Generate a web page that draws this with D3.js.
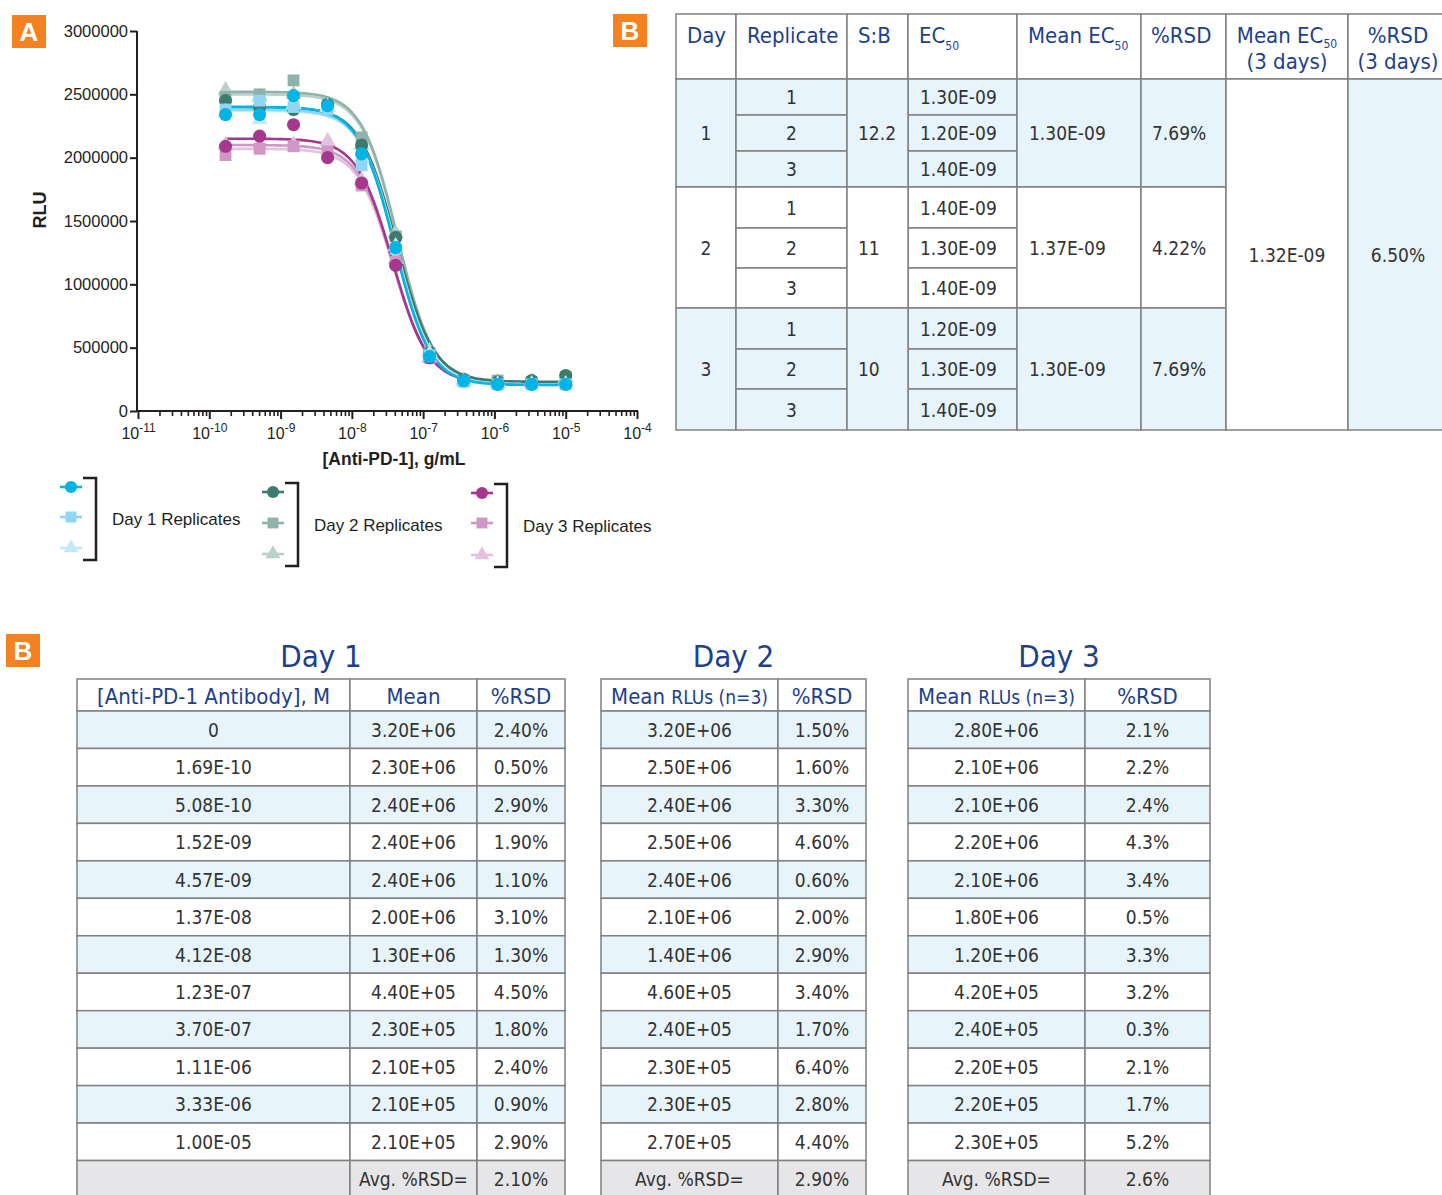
<!DOCTYPE html>
<meta charset="utf-8">
<style>
body{margin:0;background:#fff;}
svg text{font-family:"Liberation Sans",Arial,sans-serif;}
.axis text{font-size:16.5px;fill:#231f20;font-family:"Liberation Sans",Arial,sans-serif;}
.axis path,.axis line{stroke:#231f20;stroke-width:2px;}
.tbl text{font-family:"Liberation Sans Narrow","DejaVu Sans Condensed","Liberation Sans",sans-serif;}
.hd{fill:#1d3f8e;font-size:22px;}
.cell{fill:#333;font-size:19px;}
.badge text{fill:#fff;font-weight:bold;font-size:26px;}
</style>
<body>
<script src="https://cdn.jsdelivr.net/npm/d3@7/dist/d3.min.js"></script>
<script>
// concentrations on the plot, g/mL
var conc=[1.69e-10,5.08e-10,1.52e-9,4.57e-9,1.37e-8,4.12e-8,1.23e-7,3.70e-7,1.11e-6,3.33e-6,1.00e-5];

// replicate RLU
var day1Rep1=[2340000,2340000,2490000,2410000,2030000,1290000,430000,240000,210000,210000,210000];
var day1Rep2=[2380000,2450000,2400000,2380000,1940000,1280000,440000,230000,210000,210000,210000];
var day1Rep3=[2360000,2300000,2420000,2400000,2000000,1300000,450000,230000,210000,210000,210000];
var day2Rep1=[2450000,2400000,2380000,2420000,2100000,1370000,460000,250000,230000,240000,280000];
var day2Rep2=[2480000,2500000,2610000,2420000,2160000,1380000,460000,240000,240000,230000,270000];
var day2Rep3=[2530000,2480000,2500000,2400000,2100000,1400000,470000,240000,230000,230000,260000];
var day3Rep1=[2090000,2170000,2260000,2000000,1800000,1150000,420000,240000,220000,220000,230000];
var day3Rep2=[2020000,2070000,2090000,2050000,1780000,1180000,420000,240000,220000,220000,230000];
var day3Rep3=[2100000,2100000,2100000,2130000,1820000,1200000,420000,240000,220000,220000,230000];

// fitted 4PL curve parameters per replicate (same order)
var fitTop   =[2400000,2380000,2370000,2400000,2520000,2500000,2150000,2100000,2070000];
var fitBottom=[205000,210000,210000,230000,225000,225000,220000,220000,220000];
var fitLogEC50=[-7.40,-7.39,-7.38,-7.37,-7.36,-7.36,-7.43,-7.42,-7.42];
var fitHill  =[1.75,1.75,1.75,1.7,1.75,1.75,1.75,1.75,1.75];

var repColors=["#00b4e6","#8ed6f2","#c6e9f8","#3d7b6f","#8fb2ab","#bad0ca","#a6378f","#d197c4","#e3c2de"];
var repShapes=["circle","square","triangle","circle","square","triangle","circle","square","triangle"];
var legendLabels=["Day 1 Replicates","Day 2 Replicates","Day 3 Replicates"];

var yTicks=[0,500000,1000000,1500000,2000000,2500000,3000000];
var xMajor=[1e-11,1e-10,1e-9,1e-8,1e-7,1e-6,1e-5,1e-4];
var xExp=["-11","-10","-9","-8","-7","-6","-5","-4"];

// top-right EC50 table
var ecDays=["1","2","3"];
var ecReps=["1","2","3"];
var ecSB=["12.2","11","10"];
var ec50=[["1.30E-09","1.20E-09","1.40E-09"],["1.40E-09","1.30E-09","1.40E-09"],["1.20E-09","1.30E-09","1.40E-09"]];
var ecMean=["1.30E-09","1.37E-09","1.30E-09"];
var ecRSD=["7.69%","4.22%","7.69%"];
var ecMeanAll="1.32E-09";
var ecRSDAll="6.50%";

// bottom tables
var tblConc=["0","1.69E-10","5.08E-10","1.52E-09","4.57E-09","1.37E-08","4.12E-08","1.23E-07","3.70E-07","1.11E-06","3.33E-06","1.00E-05"];
var day1Mean=["3.20E+06","2.30E+06","2.40E+06","2.40E+06","2.40E+06","2.00E+06","1.30E+06","4.40E+05","2.30E+05","2.10E+05","2.10E+05","2.10E+05"];
var day1RSD=["2.40%","0.50%","2.90%","1.90%","1.10%","3.10%","1.30%","4.50%","1.80%","2.40%","0.90%","2.90%"];
var day2Mean=["3.20E+06","2.50E+06","2.40E+06","2.50E+06","2.40E+06","2.10E+06","1.40E+06","4.60E+05","2.40E+05","2.30E+05","2.30E+05","2.70E+05"];
var day2RSD=["1.50%","1.60%","3.30%","4.60%","0.60%","2.00%","2.90%","3.40%","1.70%","6.40%","2.80%","4.40%"];
var day3Mean=["2.80E+06","2.10E+06","2.10E+06","2.20E+06","2.10E+06","1.80E+06","1.20E+06","4.20E+05","2.40E+05","2.20E+05","2.20E+05","2.30E+05"];
var day3RSD=["2.1%","2.2%","2.4%","4.3%","3.4%","0.5%","3.3%","3.2%","0.3%","2.1%","1.7%","5.2%"];
var avgRSD=["2.10%","2.90%","2.6%"];

var ink="#231f20", blue="#e7f4fb", grey="#e6e6e8", border="#808080";

var svg=d3.select("body").append("svg").attr("width",1442).attr("height",1195);

// ---------- panel A ----------
var x=d3.scaleLog().domain([1e-11,1e-4]).range([138,637]);
var y=d3.scaleLinear().domain([0,3000000]).range([411,31]);

svg.append("g").attr("class","axis").attr("transform","translate(137,0)")
  .call(d3.axisLeft(y).tickValues(yTicks).tickFormat(d3.format("d")).tickSize(7).tickPadding(2))
  .select(".domain").attr("d","M0,31V411");

var minor=[];
xMajor.slice(0,-1).forEach(function(m){ for(var k=2;k<10;k++) minor.push(m*k); });

var xa=svg.append("g").attr("class","axis").attr("transform","translate(0,411)");
xa.call(d3.axisBottom(x).tickValues(xMajor).tickFormat("").tickSize(8).tickSizeOuter(0));
xa.select(".domain").attr("d","M136,0H638");
xa.selectAll(".tick").append("text").attr("y",28).attr("fill",ink).attr("text-anchor","middle")
  .style("font-size","16px")
  .each(function(d,i){
    var t=d3.select(this);
    t.append("tspan").text("10");
    t.append("tspan").attr("dy",-7).style("font-size","12px").text(xExp[i]);
  });
var xm=svg.append("g").attr("class","axis").attr("transform","translate(0,411)");
xm.call(d3.axisBottom(x).tickValues(minor).tickFormat("").tickSize(5));
xm.select(".domain").remove();
xm.selectAll("line").style("stroke-width","1.6px");

svg.append("text").attr("transform","translate(46,210) rotate(-90)").attr("text-anchor","middle")
  .style("font-weight","bold").style("font-size","18px").attr("fill",ink).text("RLU");
svg.append("text").attr("x",394).attr("y",465).attr("text-anchor","middle")
  .style("font-weight","bold").style("font-size","17.5px").attr("fill",ink).text("[Anti-PD-1], g/mL");

var reps=[day1Rep1,day1Rep2,day1Rep3,day2Rep1,day2Rep2,day2Rep3,day3Rep1,day3Rep2,day3Rep3];
var shapeType={circle:d3.symbolCircle,square:d3.symbolSquare,triangle:d3.symbolTriangle};
var shapeSize={circle:135,square:140,triangle:115};

var curveX=d3.range(0,121).map(function(i){ return Math.pow(10,Math.log10(conc[0])+i*(Math.log10(conc[10])-Math.log10(conc[0]))/120); });
var line=d3.line().x(function(d){return x(d[0]);}).y(function(d){return y(d[1]);}).curve(d3.curveBasis);

var order=[8,7,6,5,4,3,2,1,0];
var gc=svg.append("g");
order.forEach(function(r){
  var pts=curveX.map(function(c){
    var v=fitBottom[r]+(fitTop[r]-fitBottom[r])/(1+Math.pow(10,(Math.log10(c)-fitLogEC50[r])*fitHill[r]));
    return [c,v];
  });
  gc.append("path").attr("d",line(pts)).attr("fill","none").attr("stroke",repColors[r]).attr("stroke-width",2.6);
});
var gm=svg.append("g");
order.forEach(function(r){
  gm.selectAll(null).data(reps[r]).enter().append("path")
    .attr("transform",function(d,i){ return "translate("+x(conc[i])+","+y(d)+")"; })
    .attr("d",d3.symbol().type(shapeType[repShapes[r]]).size(shapeSize[repShapes[r]])())
    .attr("fill",repColors[r]);
});

// legend
var legX=[71,273,482], legY=[[487,517,548],[492,523,554],[493,523,555]];
legendLabels.forEach(function(lab,gi){
  var g=svg.append("g");
  [0,1,2].forEach(function(k){
    var r=gi*3+k;
    g.append("line").attr("x1",legX[gi]-11).attr("x2",legX[gi]+11).attr("y1",legY[gi][k]).attr("y2",legY[gi][k])
      .attr("stroke",repColors[r]).attr("stroke-width",2.6);
    g.append("path").attr("transform","translate("+legX[gi]+","+legY[gi][k]+")")
      .attr("d",d3.symbol().type(shapeType[repShapes[r]]).size(shapeSize[repShapes[r]]*0.85)())
      .attr("fill",repColors[r]);
  });
  var bx=legX[gi]+25, top=legY[gi][0]-9, bot=legY[gi][2]+12;
  g.append("path").attr("d","M"+(bx-13)+","+top+"H"+bx+"V"+bot+"H"+(bx-13))
    .attr("fill","none").attr("stroke",ink).attr("stroke-width",2.5);
  g.append("text").attr("x",bx+16).attr("y",(top+bot)/2+6).style("font-size","17px").attr("fill",ink).text(lab);
});

// badges
function badge(x0,y0,t){
  var b=svg.append("g").attr("class","badge");
  b.append("rect").attr("x",x0).attr("y",y0).attr("width",34).attr("height",33).attr("fill","#f58220");
  b.append("text").attr("x",x0+17).attr("y",y0+26).attr("text-anchor","middle").text(t);
}
badge(12,15,"A"); badge(613,14,"B"); badge(6,634,"B");

// ---------- tables ----------
var T=svg.append("g").attr("class","tbl");
function cell(x0,x1,y0,y1,fill){
  T.append("rect").attr("x",x0).attr("y",y0).attr("width",x1-x0).attr("height",y1-y0)
    .attr("fill",fill).attr("stroke",border).attr("stroke-width",1.5);
}
function txt(xp,yp,s,anchor,cls){
  return T.append("text").attr("x",xp).attr("y",yp).attr("text-anchor",anchor||"middle").attr("class",cls||"cell").text(s);
}

// top-right table
var cx=[676,736,847,908,1017,1141,1226,1348,1452];
var hTop=14, hBot=79;
var dayRows=[[79,115,151,187],[187,228,268,308],[308,349,389,430]];
var dayFill=[blue,"#fff",blue];
for(var c=0;c<8;c++) cell(cx[c],cx[c+1],hTop,hBot,"#fff");
var h1=["Day","Replicate","S:B"];
h1.forEach(function(s,i){ txt(cx[i]+11,43,s,"start","hd"); });
var e=txt(cx[3]+11,43,"EC","start","hd"); e.append("tspan").attr("dy",7).style("font-size","12px").text("50");
e=txt(cx[4]+11,43,"Mean EC","start","hd"); e.append("tspan").attr("dy",7).style("font-size","12px").text("50");
txt(cx[5]+10,43,"%RSD","start","hd");
e=txt((cx[6]+cx[7])/2,43,"Mean EC","middle","hd"); e.append("tspan").attr("dy",5).style("font-size","12px").text("50");
txt((cx[6]+cx[7])/2,69,"(3 days)","middle","hd");
txt(1398,43,"%RSD","middle","hd");
txt(1398,69,"(3 days)","middle","hd");

ecDays.forEach(function(dd,di){
  var rr=dayRows[di], f=dayFill[di], mid=(rr[0]+rr[3])/2+7;
  cell(cx[0],cx[1],rr[0],rr[3],f); txt((cx[0]+cx[1])/2,mid,dd);
  ecReps.forEach(function(rp,ri){
    cell(cx[1],cx[2],rr[ri],rr[ri+1],f); txt((cx[1]+cx[2])/2,(rr[ri]+rr[ri+1])/2+7,rp);
    cell(cx[3],cx[4],rr[ri],rr[ri+1],f); txt(cx[3]+12,(rr[ri]+rr[ri+1])/2+7,ec50[di][ri],"start");
  });
  cell(cx[2],cx[3],rr[0],rr[3],f); txt(cx[2]+11,mid,ecSB[di],"start");
  cell(cx[4],cx[5],rr[0],rr[3],f); txt(cx[4]+12,mid,ecMean[di],"start");
  cell(cx[5],cx[6],rr[0],rr[3],f); txt(cx[5]+11,mid,ecRSD[di],"start");
});
cell(cx[6],cx[7],79,430,"#fff"); txt((cx[6]+cx[7])/2,262,ecMeanAll);
cell(cx[7],cx[8],79,430,blue); txt(1398,262,ecRSDAll);

// bottom tables
var rowY=d3.scaleBand().domain(d3.range(13)).range([711,1198]);
function dayTable(cols,title,header,columns,avgCol){
  txt((cols[0]+cols[cols.length-1])/2,667,title,"middle","hd").style("font-size","31px");
  for(var c=0;c<cols.length-1;c++){
    cell(cols[c],cols[c+1],679,711,"#fff");
    var h=txt((cols[c]+cols[c+1])/2,704,header[c][0],"middle","hd");
    if(header[c][1]) h.append("tspan").style("font-size","19px").text(header[c][1]);
  }
  tblConc.forEach(function(_,ri){
    var y0=rowY(ri), y1=y0+rowY.bandwidth(), f=ri%2===0?blue:"#fff";
    columns.forEach(function(col,c){
      cell(cols[c],cols[c+1],y0,y1,f);
      txt((cols[c]+cols[c+1])/2,(y0+y1)/2+7,col[ri]);
    });
  });
  var y0=rowY(12), y1=y0+rowY.bandwidth();
  for(var c2=0;c2<cols.length-1;c2++) cell(cols[c2],cols[c2+1],y0,y1,grey);
  txt((cols[avgCol]+cols[avgCol+1])/2,(y0+y1)/2+7,"Avg. %RSD=");
  txt((cols[avgCol+1]+cols[avgCol+2])/2,(y0+y1)/2+7,avgRSD[title.slice(-1)-1]);
}
dayTable([77,350,477,565],"Day 1",[["[Anti-PD-1 Antibody], M"],["Mean"],["%RSD"]],[tblConc,day1Mean,day1RSD],1);
dayTable([601,778,866],"Day 2",[["Mean ","RLUs (n=3)"],["%RSD"]],[day2Mean,day2RSD],0);
dayTable([908,1085,1210],"Day 3",[["Mean ","RLUs (n=3)"],["%RSD"]],[day3Mean,day3RSD],0);
</script>
</body>
</html>
